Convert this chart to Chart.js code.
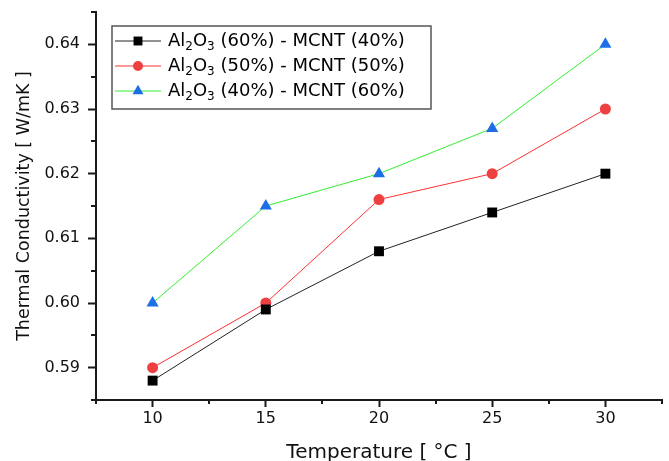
<!DOCTYPE html>
<html>
<head>
<meta charset="utf-8">
<script src="https://cdn.jsdelivr.net/npm/chart.js@4"></script>
<style>
html,body{margin:0;padding:0;background:#fff;}
#wrap{width:669px;height:461px;position:relative;}
</style>
</head>
<body>
<div id="wrap"><canvas id="c" width="669" height="461"></canvas></div>
<script>
// ---- data ----
const temperatures = [10, 15, 20, 25, 30];
const series1 = [0.588, 0.599, 0.608, 0.614, 0.620]; // Al2O3 (60%) - MCNT (40%)
const series2 = [0.590, 0.600, 0.616, 0.620, 0.630]; // Al2O3 (50%) - MCNT (50%)
const series3 = [0.600, 0.615, 0.620, 0.627, 0.640]; // Al2O3 (40%) - MCNT (60%)
const seriesNames = ['Al2O3 (60%) - MCNT (40%)', 'Al2O3 (50%) - MCNT (50%)', 'Al2O3 (40%) - MCNT (60%)'];
const xTicks = [10, 15, 20, 25, 30];
const xMinorTicks = [7.5, 12.5, 17.5, 22.5, 27.5, 32.5];
const yTicks = [0.59, 0.60, 0.61, 0.62, 0.63, 0.64];
const yMinorTicks = [0.585, 0.595, 0.605, 0.615, 0.625, 0.635, 0.645];
const xTitle = 'Temperature [ \u00B0C ]';
const yTitle = 'Thermal Conductivity [ W/mK ]';

const FONT = 'DejaVu Sans';
const AXIS = '#1a1a1a';

const styles = [
  {line: '#222222', fill: '#000000', pt: 'rect', r: 7},
  {line: '#ff3030', fill: '#ee4040', pt: 'circle', r: 5.5},
  {line: '#30ee30', fill: '#1e6ee6', pt: 'triangle', r: 7}
];
const values = [series1, series2, series3];

const datasets = values.map((v, i) => ({
  label: seriesNames[i],
  data: temperatures.map((t, j) => ({x: t, y: v[j]})),
  borderColor: styles[i].line,
  borderWidth: 1,
  pointStyle: styles[i].pt,
  pointRadius: styles[i].r,
  pointHoverRadius: styles[i].r,
  pointBackgroundColor: styles[i].fill,
  pointBorderColor: styles[i].fill,
  pointBorderWidth: 0,
  tension: 0,
  fill: false
}));

// minor ticks plugin
const minorTicks = {
  id: 'minorTicks',
  afterDraw(chart) {
    const ctx = chart.ctx;
    const xs = chart.scales.x, ys = chart.scales.y;
    ctx.save();
    ctx.strokeStyle = AXIS;
    ctx.lineWidth = 2;
    ctx.beginPath();
    xMinorTicks.forEach(v => {
      const px = Math.round(xs.getPixelForValue(v));
      ctx.moveTo(px, xs.top);
      ctx.lineTo(px, xs.top + 4);
    });
    yMinorTicks.forEach(v => {
      const py = Math.round(ys.getPixelForValue(v));
      ctx.moveTo(ys.right, py);
      ctx.lineTo(ys.right - 5, py);
    });
    ctx.stroke();
    ctx.restore();
  }
};

// legend with subscripts
function drawFormula(ctx, text, x, y, size) {
  const sp = text.indexOf(' ');
  const formula = text.slice(0, sp);
  const rest = text.slice(sp);
  let cx = x;
  for (const ch of formula) {
    if (/\d/.test(ch)) {
      ctx.font = Math.round(size * 0.68) + 'px "' + FONT + '"';
      ctx.fillText(ch, cx, y + size * 0.3);
      cx += ctx.measureText(ch).width;
    } else {
      ctx.font = size + 'px "' + FONT + '"';
      ctx.fillText(ch, cx, y);
      cx += ctx.measureText(ch).width;
    }
  }
  ctx.font = size + 'px "' + FONT + '"';
  ctx.fillText(rest, cx, y);
}

const customLegend = {
  id: 'customLegend',
  afterDraw(chart) {
    const ctx = chart.ctx;
    const ca = chart.chartArea;
    const bx = ca.left + 16, by = ca.top + 14, bw = 319, bh = 83;
    ctx.save();
    ctx.fillStyle = '#fff';
    ctx.fillRect(bx, by, bw, bh);
    ctx.strokeStyle = '#555';
    ctx.lineWidth = 1.5;
    ctx.strokeRect(bx, by, bw, bh);
    const rowH = 25;
    chart.data.datasets.forEach((ds, i) => {
      const cy = by + 15 + i * rowH;
      ctx.strokeStyle = ds.borderColor;
      ctx.lineWidth = 1;
      ctx.beginPath();
      ctx.moveTo(bx + 3, cy);
      ctx.lineTo(bx + 49, cy);
      ctx.stroke();
      ctx.fillStyle = ds.pointBackgroundColor;
      ctx.strokeStyle = ds.pointBackgroundColor;
      const r = ds.pointStyle === 'circle' ? 5 : 6.3;
      Chart.helpers.drawPoint(ctx, {pointStyle: ds.pointStyle, radius: r, rotation: 0, borderWidth: 0}, bx + 26, cy);
      ctx.fillStyle = '#000';
      ctx.textBaseline = 'middle';
      ctx.textAlign = 'left';
      drawFormula(ctx, ds.label, bx + 56, cy, 18);
    });
    ctx.restore();
  }
};

new Chart(document.getElementById('c'), {
  type: 'line',
  data: {datasets},
  options: {
    responsive: false,
    animation: false,
    devicePixelRatio: 1,
    layout: {padding: {top: 12, right: 5, left: 0, bottom: 0}},
    plugins: {legend: {display: false}, tooltip: {enabled: false}},
    scales: {
      x: {
        type: 'linear',
        min: 7.5, max: 32.5,
        afterBuildTicks: s => { s.ticks = xTicks.map(v => ({value: v})); },
        afterFit: s => { s.height = 61; s.paddingLeft = 0; s.paddingRight = 0; },
        grid: {drawOnChartArea: false, drawTicks: true, tickLength: 7, tickWidth: 2, tickColor: AXIS},
        border: {display: true, color: AXIS, width: 2},
        ticks: {color: '#111', font: {family: FONT, size: 16}, padding: 2, callback: v => String(v), maxRotation: 0},
        title: {display: true, text: xTitle, color: '#111', font: {family: FONT, size: 20}, padding: {top: 0, bottom: -4}}
      },
      y: {
        type: 'linear',
        min: 0.585, max: 0.645,
        afterBuildTicks: s => { s.ticks = yTicks.map(v => ({value: v})); },
        afterFit: s => { s.width = 96; s.paddingTop = 0; s.paddingBottom = 0; },
        grid: {drawOnChartArea: false, drawTicks: true, tickLength: 8, tickWidth: 2, tickColor: AXIS},
        border: {display: true, color: AXIS, width: 2},
        ticks: {color: '#111', font: {family: FONT, size: 16}, padding: 8, callback: v => v.toFixed(2)},
        title: {display: true, text: yTitle, color: '#111', font: {family: FONT, size: 17.5}, padding: {top: 14, bottom: 0}}
      }
    }
  },
  plugins: [minorTicks, customLegend]
});
</script>
</body>
</html>
